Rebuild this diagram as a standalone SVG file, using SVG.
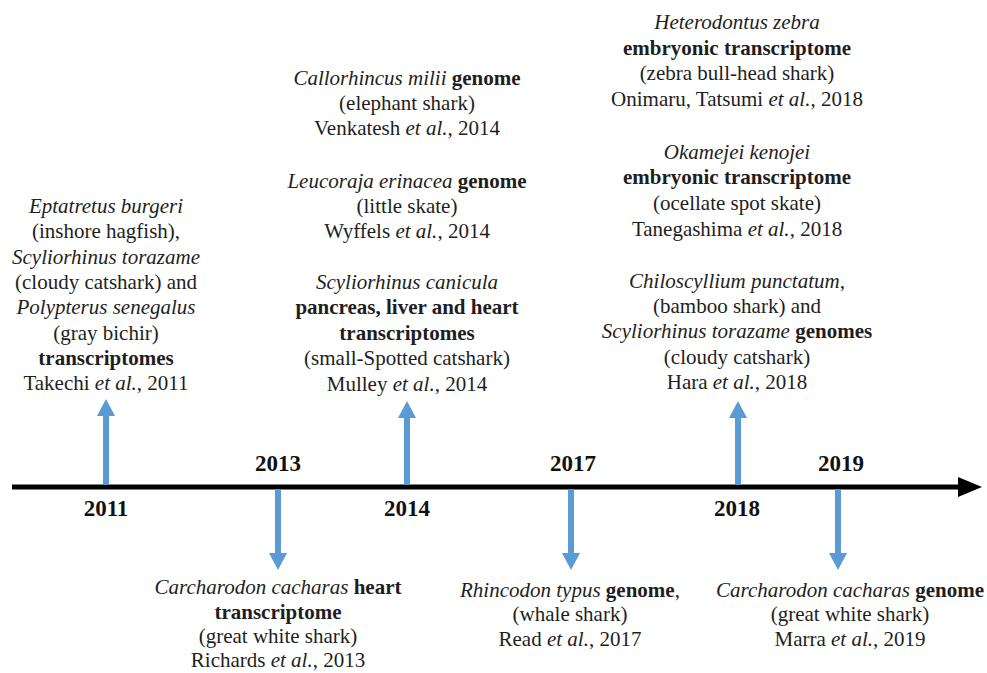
<svg xmlns="http://www.w3.org/2000/svg" width="987" height="673" viewBox="0 0 987 673">
<style>
text{font-family:'Liberation Serif','Tinos','Times New Roman','DejaVu Serif',serif;font-size:21px;fill:#1e1e1e;text-anchor:middle}
.i{font-style:italic}
.b{font-weight:bold}
.yr{font-weight:bold;font-size:23px;fill:#111}
.shaft{stroke:#5b9bd5;stroke-width:6;fill:none}
.head{fill:#5b9bd5}
</style>
<rect width="987" height="673" fill="#fff"/>
<g id="connectors">
  <line x1="12" y1="487" x2="962" y2="487" stroke="#000" stroke-width="5"/>
  <polygon points="958,477 982,487 958,497" fill="#000"/>
  <line class="shaft" x1="106" y1="485" x2="106" y2="412"/>
  <polygon class="head" points="97,416 106,399 115,416"/>
  <line class="shaft" x1="407" y1="485" x2="407" y2="414"/>
  <polygon class="head" points="398,418 407,401 416,418"/>
  <line class="shaft" x1="738" y1="485" x2="738" y2="414"/>
  <polygon class="head" points="729,418 738,401 747,418"/>
  <line class="shaft" x1="278" y1="489" x2="278" y2="557"/>
  <polygon class="head" points="269,553 278,570 287,553"/>
  <line class="shaft" x1="571" y1="489" x2="571" y2="557"/>
  <polygon class="head" points="562,553 571,570 580,553"/>
  <line class="shaft" x1="838" y1="489" x2="838" y2="557"/>
  <polygon class="head" points="829,553 838,570 847,553"/>
</g>
<g id="years">
  <text class="yr" x="106" y="516">2011</text>
  <text class="yr" x="278" y="471">2013</text>
  <text class="yr" x="407" y="516">2014</text>
  <text class="yr" x="573" y="471">2017</text>
  <text class="yr" x="737" y="516">2018</text>
  <text class="yr" x="841" y="471">2019</text>
</g>
<g id="node-2011">
  <text x="106" y="213"><tspan class="i">Eptatretus burgeri</tspan></text>
  <text x="106" y="238">(inshore hagfish),</text>
  <text x="106" y="264"><tspan class="i">Scyliorhinus torazame</tspan></text>
  <text x="106" y="289">(cloudy catshark) and</text>
  <text x="106" y="314"><tspan class="i">Polypterus senegalus</tspan></text>
  <text x="106" y="340">(gray bichir)</text>
  <text x="106" y="365" class="b">transcriptomes</text>
  <text x="106" y="390">Takechi <tspan class="i">et al.</tspan>, 2011</text>
</g>
<g id="node-2014">
  <text x="407" y="85"><tspan class="i">Callorhincus milii</tspan> <tspan class="b">genome</tspan></text>
  <text x="407" y="110">(elephant shark)</text>
  <text x="407" y="135">Venkatesh <tspan class="i">et al.</tspan>, 2014</text>
  <text x="407" y="188"><tspan class="i">Leucoraja erinacea</tspan> <tspan class="b">genome</tspan></text>
  <text x="407" y="213">(little skate)</text>
  <text x="407" y="238">Wyffels <tspan class="i">et al.</tspan>, 2014</text>
  <text x="407" y="289"><tspan class="i">Scyliorhinus canicula</tspan></text>
  <text x="407" y="314" class="b">pancreas, liver and heart</text>
  <text x="407" y="340" class="b">transcriptomes</text>
  <text x="407" y="365">(small-Spotted catshark)</text>
  <text x="407" y="391">Mulley <tspan class="i">et al.</tspan>, 2014</text>
</g>
<g id="node-2018">
  <text x="737" y="29"><tspan class="i">Heterodontus zebra</tspan></text>
  <text x="737" y="55" class="b">embryonic transcriptome</text>
  <text x="737" y="80">(zebra bull-head shark)</text>
  <text x="737" y="106">Onimaru, Tatsumi <tspan class="i">et al.</tspan>, 2018</text>
  <text x="737" y="159"><tspan class="i">Okamejei kenojei</tspan></text>
  <text x="737" y="184" class="b">embryonic transcriptome</text>
  <text x="737" y="210">(ocellate spot skate)</text>
  <text x="737" y="236">Tanegashima <tspan class="i">et al.</tspan>, 2018</text>
  <text x="737" y="288"><tspan class="i">Chiloscyllium punctatum</tspan>,</text>
  <text x="737" y="313">(bamboo shark) and</text>
  <text x="737" y="338"><tspan class="i">Scyliorhinus torazame</tspan> <tspan class="b">genomes</tspan></text>
  <text x="737" y="364">(cloudy catshark)</text>
  <text x="737" y="389">Hara <tspan class="i">et al.</tspan>, 2018</text>
</g>
<g id="node-2013">
  <text x="278" y="594"><tspan class="i">Carcharodon cacharas</tspan> <tspan class="b">heart</tspan></text>
  <text x="278" y="619" class="b">transcriptome</text>
  <text x="278" y="643">(great white shark)</text>
  <text x="278" y="667">Richards <tspan class="i">et al.</tspan>, 2013</text>
</g>
<g id="node-2017">
  <text x="570" y="597"><tspan class="i">Rhincodon typus</tspan> <tspan class="b">genome</tspan>,</text>
  <text x="570" y="621">(whale shark)</text>
  <text x="570" y="646">Read <tspan class="i">et al.</tspan>, 2017</text>
</g>
<g id="node-2019">
  <text x="850" y="597"><tspan class="i">Carcharodon cacharas</tspan> <tspan class="b">genome</tspan></text>
  <text x="850" y="621">(great white shark)</text>
  <text x="850" y="646">Marra <tspan class="i">et al.</tspan>, 2019</text>
</g>
</svg>
